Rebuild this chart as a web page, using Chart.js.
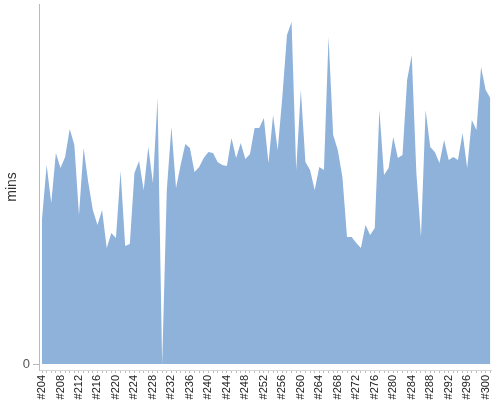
<!DOCTYPE html>
<html>
<head>
<meta charset="utf-8">
<script src="https://cdn.jsdelivr.net/npm/chart.js@4/dist/chart.umd.min.js"></script>
<style>
  html, body { margin: 0; padding: 0; background: #fff; }
  #wrap { width: 500px; height: 400px; }
</style>
</head>
<body>
<div id="wrap"><canvas id="chart" width="500" height="400"></canvas></div>
<script>
// build numbers #204 .. #301
var builds = ['#204','#205','#206','#207','#208','#209','#210','#211','#212','#213',
  '#214','#215','#216','#217','#218','#219','#220','#221','#222','#223',
  '#224','#225','#226','#227','#228','#229','#230','#231','#232','#233',
  '#234','#235','#236','#237','#238','#239','#240','#241','#242','#243',
  '#244','#245','#246','#247','#248','#249','#250','#251','#252','#253',
  '#254','#255','#256','#257','#258','#259','#260','#261','#262','#263',
  '#264','#265','#266','#267','#268','#269','#270','#271','#272','#273',
  '#274','#275','#276','#277','#278','#279','#280','#281','#282','#283',
  '#284','#285','#286','#287','#288','#289','#290','#291','#292','#293',
  '#294','#295','#296','#297','#298','#299','#300','#301'];

// build duration in minutes
var mins = [14.5, 19.9, 16.1, 21.1, 19.6, 20.7, 23.5, 21.9, 14.9, 21.6,
  18.2, 15.4, 13.9, 15.4, 11.6, 13.1, 12.6, 19.3, 11.8, 12.0,
  19.1, 20.3, 17.4, 21.7, 18.1, 26.6, 0, 17.4, 23.7, 17.6,
  19.9, 22.0, 21.6, 19.2, 19.7, 20.6, 21.2, 21.1, 20.2, 19.9,
  19.8, 22.6, 20.6, 22.1, 20.5, 21.0, 23.6, 23.6, 24.6, 20.1,
  24.9, 21.4, 26.7, 32.9, 34.2, 19.4, 27.4, 20.2, 19.4, 17.4,
  19.7, 19.4, 32.7, 22.9, 21.4, 18.7, 12.7, 12.7, 12.1, 11.6,
  13.9, 12.9, 13.6, 25.4, 18.9, 19.6, 22.7, 20.6, 20.9, 28.4,
  30.9, 19.1, 12.7, 25.4, 21.7, 21.2, 20.1, 22.4, 20.4, 20.7,
  20.4, 23.1, 19.6, 24.4, 23.4, 29.7, 27.4, 26.6];

var labelEvery = 4;

var points = [];
for (var i = 0; i < mins.length; i++) {
  points.push({x: i, y: mins[i]});
}

var ctx = document.getElementById('chart');
var myChart = new Chart(ctx, {
  type: 'line',
  data: {
    datasets: [{
      label: 'mins',
      data: points,
      fill: 'origin',
      backgroundColor: '#8fb2db',
      borderWidth: 0,
      borderColor: 'rgba(0,0,0,0)',
      pointRadius: 0,
      tension: 0
    }]
  },
  options: {
    responsive: false,
    animation: false,
    devicePixelRatio: 1,
    layout: { padding: { top: 4, right: 9, left: 0, bottom: 0 } },
    plugins: {
      legend: { display: false },
      tooltip: { enabled: false }
    },
    scales: {
      x: {
        type: 'linear',
        min: -0.65,
        max: 97.15,
        afterBuildTicks: function(scale){
          var t = [];
          for (var k = 0; k < builds.length; k++) t.push({value: k});
          scale.ticks = t;
        },
        afterFit: function(scale){
          scale.height = 30;
          scale.paddingLeft = 0;
          scale.paddingRight = 0;
        },
        border: { display: true, color: '#d4d4d4' },
        grid: { drawOnChartArea: false, tickLength: 3, color: '#bdbdbd' },
        ticks: {
          autoSkip: false,
          minRotation: 90,
          maxRotation: 90,
          padding: 2,
          color: '#222',
          font: { family: 'Liberation Sans, Arial', size: 11 },
          callback: function(v){
            return (v % labelEvery === 0 && v <= 96) ? builds[v] : '';
          }
        }
      },
      y: {
        min: -0.6,
        max: 36,
        afterBuildTicks: function(scale){ scale.ticks = [{value: 0}]; },
        afterFit: function(scale){
          scale.width = 39;
          scale.paddingTop = 0;
          scale.paddingBottom = 0;
        },
        border: { display: true, color: '#bbb' },
        grid: { drawOnChartArea: false, tickLength: 6, color: '#bbb' },
        ticks: {
          padding: 3,
          color: '#555',
          font: { family: 'Liberation Sans, Arial', size: 13 },
          callback: function(v){ return v === 0 ? '0' : ''; }
        },
        title: {
          display: true,
          text: 'mins',
          color: '#333',
          padding: { top: 4, bottom: 0 },
          font: { family: 'Liberation Sans, Arial', size: 14 }
        }
      }
    }
  }
});
</script>
</body>
</html>
